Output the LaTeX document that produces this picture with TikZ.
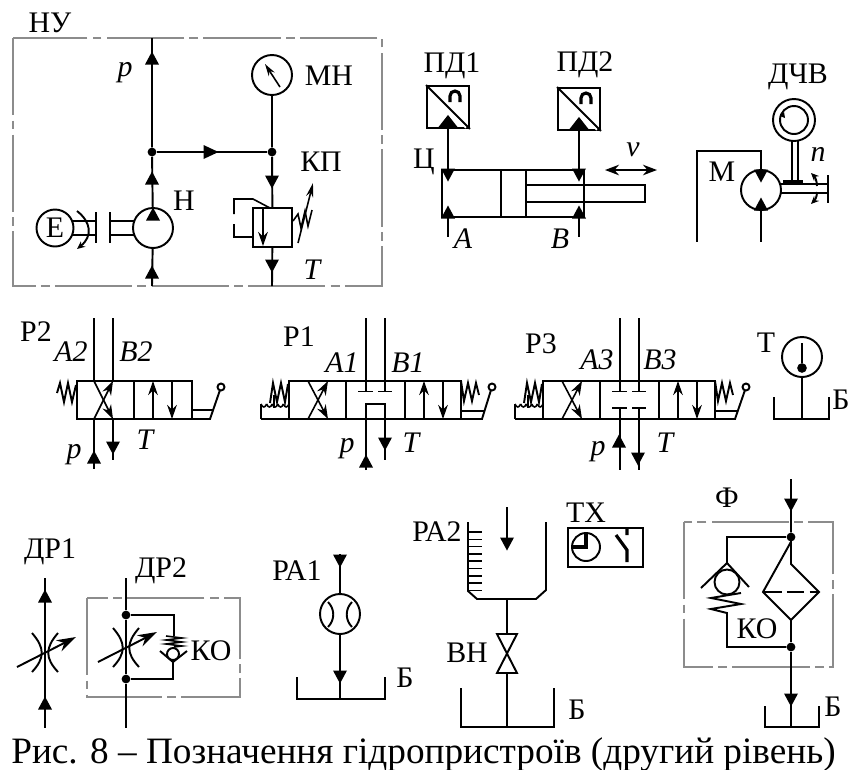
\documentclass[tikz,border=0pt]{standalone}
\usepackage{fontspec}
\setmainfont{Liberation Serif}
\usetikzlibrary{arrows.meta}

\begin{document}
\begin{tikzpicture}
	[
		x=0.02cm, y=-0.02cm,
		wire/.style = {line width=1.1pt, line join=miter},
		fine/.style = {line width=0.9pt},
		heavy/.style = {line width=1.8pt},
		frame/.style = {draw=black!45, line width=0.6pt, dash pattern=on 44pt off 3pt on 5pt off 3pt},
		wedge/.style = {fill=black, draw=none},
		vane/.style = {fine, -{Stealth[length=8pt,width=5.5pt]}},
		ring/.style = {circle, draw, line width=1.1pt, inner sep=0pt, minimum size=#1},
		dot/.style = {circle, fill=black, inner sep=0pt, minimum size=5pt},
		tag/.style = {inner sep=0pt, font=\fontsize{17}{19}\selectfont},
		var/.style = {inner sep=0pt, font=\fontsize{17}{19}\selectfont\itshape},
	]
	\useasboundingbox (0,0) rectangle (850,769);

	% frames
	\draw[frame] (13,38) rectangle (382,286);
	\draw[frame] (87,598) rectangle (240,697);
	\draw[frame] (684,522) rectangle (833,667);

	% wedges on the lines
	\foreach \x/\y in {152/58,152/178,152/272,153/214,448/212,579/212,761/204,94/457,366/461,619/441,45/596,45/703}
	\fill[wedge] (\x,\y) ++(0,-6.5) -- ++(7,13) -- ++(-14,0) -- cycle;
	\foreach \x/\y in {272/182,272/266,448/175,579/175,761/176,113/448,385/444,638/459,340/561,340/677,507/544,791/505,791/700}
	\fill[wedge] (\x,\y) ++(0,6.5) -- ++(7,-13) -- ++(-14,0) -- cycle;
	\fill[wedge] (211,152) ++(7.5,0) -- ++(-15,-7) -- ++(0,14) -- cycle;

	% pump unit
	\node[ring=0.8cm] (pump) at (153,228) {};
	\node[ring=0.8cm] (gauge) at (272,75) {};
	\node[ring=0.74cm, tag] (motorE) at (55,228) {Е};
	\node[dot] (j1) at (152,152) {};
	\node[dot] (j2) at (272,152) {};
	\node[draw, line width=1.1pt, inner sep=0pt, minimum size=0.78cm] (relief) at (272.5,227.5) {};
	\coordinate (pTop) at (152,38);
	\coordinate (pBot) at (152,286);
	\coordinate (tBot) at (272,286);
	\draw[wire] (pTop) -- (j1) -- (pump);
	\draw[wire] (pump) -- (pBot);
	\draw[wire] (j1) -- (j2);
	\draw[wire] (gauge) -- (j2) -- (relief);
	\draw[wire] (relief) -- (tBot);
	\draw[wire] (73,221) -- (96,221) (73,235) -- (96,235);
	\draw[wire] (96,212) -- (96,243) (110,212) -- (110,243);
	\draw[wire] (110,221) -- (134,221) (110,235) -- (134,235);
	\draw[wire, -{Stealth[length=4.5pt,width=4pt]}] (77,211) .. controls (91,222) and (93,236) .. (77,249);
	\draw[fine, {Stealth[length=7pt,width=4pt]}-] (265,64) -- (280,87);
	\draw[fine] (270,208) -- (253,199) -- (234,199) -- (234,214);
	\draw[fine] (234,224) -- (234,237) -- (253,237);
	\draw[vane] (263,208) -- (263,246);
	\draw[fine] (293,221) -- (298,214) -- (301,228) -- (305,211) -- (308,226) -- (312,210);
	\draw[fine, -{Stealth[length=8pt,width=4pt]}] (298,243) -- (313,183);

	% cylinder
	\node[draw, line width=1.1pt, inner sep=0pt, minimum size=0.84cm] (pd1) at (448,107) {};
	\node[draw, line width=1.1pt, inner sep=0pt, minimum size=0.84cm] (pd2) at (579,109) {};
	\coordinate (c1) at (448,170);
	\coordinate (c2) at (579,170);
	\draw[wire] (pd1) -- (c1);
	\draw[wire] (pd2) -- (c2);
	\foreach \n in {pd1,pd2} {
		\draw[wire] (\n.north west) -- (\n.south east);
		\draw[heavy] (\n) ++(2,-5) -- ++(0,-6) arc (180:360:5) -- ++(0,6);
		\fill[wedge] (\n.south) ++(0,-14) -- ++(11,14) -- ++(-22,0) -- cycle;
		\draw[white, line width=0.8pt] (\n.south east) ++(-4,-1) -- ++(-12,-12);
	}
	\draw[wire] (442,170) rectangle (584,217);
	\draw[wire] (501,170) -- (501,217) (526,170) -- (526,217);
	\draw[wire] (526,185) rectangle (645,202);
	\draw[wire] (448,217) -- (448,237) (579,217) -- (579,237);
	\draw[wire, {Stealth[length=8pt,width=6pt]}-{Stealth[length=8pt,width=6pt]}] (605,170) -- (657,170);

	% motor
	\node[ring=0.8cm] (motorM) at (761,190) {};
	\node[ring=0.84cm] (speed) at (794,120) {};
	\node[ring=0.56cm] (speedIn) at (794,120) {};
	\coordinate (m1) at (761,151);
	\coordinate (m2) at (697,151);
	\coordinate (m3) at (697,242);
	\coordinate (m4) at (761,242);
	\draw[wire] (motorM) -- (m1) -- (m2) -- (m3);
	\draw[wire] (motorM) -- (m4);
	\fill[wedge] (780,116) -- ++(4,-4) -- ++(1,6) -- cycle;
	\draw[wire] (792,141) -- (792,182) (798,141) -- (798,182);
	\draw[heavy] (783,182) -- (803,182);
	\draw[wire] (780,184) -- (828,184) (780,193) -- (828,193);
	\draw[wire] (828,175) -- (828,203);
	\draw[wire, -{Stealth[length=4.5pt,width=4pt]}] (817,186) .. controls (817,181) and (815,177) .. (811,173);
	\draw[wire, -{Stealth[length=4.5pt,width=4pt]}] (817,192) .. controls (817,197) and (815,200) .. (811,204);

	% valve P2
	\draw[wire] (77,381) rectangle (192,419);
	\draw[wire] (134,381) -- (134,419);
	\draw[wire] (94,318) -- (94,381) (113,318) -- (113,381);
	\draw[wire] (94,419) -- (94,469) (113,419) -- (113,460);
	\draw[vane] (94,381) -- (113,419);
	\draw[vane] (94,419) -- (113,381);
	\draw[vane] (153,419) -- (153,381);
	\draw[vane] (172,381) -- (172,419);
	\draw[wire] (57,393) -- (60,383) -- (64,402) -- (68,383) -- (72,402) -- (76,385);
	\draw[wire] (192,410) -- (213,410);
	\draw[wire] (192,419) -- (210,419) -- (220,390);
	\draw[wire] (221,387) circle (3.5);

	% valves P1 and P3
	\foreach \dx/\tipx in {0/482,254/481} {
		\begin{scope}[shift={(\dx,0)}]
			\draw[wire] (289,381) rectangle (461,419);
			\draw[wire] (346,381) -- (346,419) (405,381) -- (405,419);
			\draw[wire] (366,318) -- (366,391) (385,318) -- (385,391);
			\draw[wire] (358,391.5) -- (373,391.5) (378,391.5) -- (392,391.5);
			\draw[vane] (308,381) -- (328,419);
			\draw[vane] (308,419) -- (328,381);
			\draw[vane] (424,419) -- (424,381);
			\draw[vane] (443,381) -- (443,419);
			\draw[wire] (261,419) -- (289,419) (261,419) -- (261,404);
			\foreach \x in {261,266.6,272.2,277.8,283.4}
			\draw[fine] (\x,404) .. controls +(1.5,4) and +(-1.5,4) .. +(5.6,0);
			\draw[wire] (270,403) -- (273,383) -- (277,402) -- (281,383) -- (285,402) -- (288,384);
			\draw[fine] (274,395) -- (274,408);
			\draw[wire] (461,381) -- ++(3,20) -- ++(4,-18) -- ++(4,18) -- ++(4,-18) -- ++(3,12);
			\draw[wire] (461,411) -- (484,411);
			\draw[wire] (461,419) -- (\tipx,419) -- (491,390);
			\draw[wire] (492,387) circle (3.5);
		\end{scope}
	}
	% P1 centre
	\draw[wire] (366,470) -- (366,404) -- (385,404) -- (385,460);
	% P3 centre
	\draw[wire] (612,408) -- (627,408) (632,408) -- (646,408);
	\draw[wire] (620,408) -- (620,470) (639,408) -- (639,470);

	% level gauge on the tank
	\node[ring=0.8cm] (level) at (802,357) {};
	\node[dot, minimum size=5.5pt] (bulb) at (802,368) {};
	\coordinate (lev) at (802,343);
	\coordinate (levB) at (802,419);
	\draw[fine] (lev) -- (bulb);
	\draw[wire] (level) -- (levB);
	\draw[wire] (774,397) -- (774,419) -- (829,419) -- (829,397);

	% throttles
	\coordinate (dr1t) at (45,578);
	\coordinate (dr1b) at (45,728);
	\coordinate (dr2t) at (126,578);
	\coordinate (dr2b) at (126,728);
	\draw[wire] (dr1t) -- (dr1b);
	\node[dot] (j3) at (126,615) {};
	\node[dot] (j4) at (126,679) {};
	\draw[wire] (dr2t) -- (j3) -- (j4) -- (dr2b);
	\foreach \dx/\dy in {0/0,81/-5} {
		\begin{scope}[shift={(\dx,\dy)}]
			\draw[wire] (32,633) .. controls (45,648) and (45,658) .. (32,672);
			\draw[wire] (58,633) .. controls (45,648) and (45,658) .. (58,672);
			\draw[wire, -{Stealth[length=11pt,width=7pt]}] (17,667) -- (76,637);
		\end{scope}
	}
	\node[circle, draw, line width=1.1pt, inner sep=0pt, minimum size=0.24cm] (ball1) at (173,654) {};
	\coordinate (b1) at (174,615);
	\coordinate (b2) at (174,636);
	\coordinate (b3) at (173,662);
	\coordinate (b4) at (173,679);
	\draw[wire] (j3) -- (b1) -- (b2);
	\draw[wire] (b3) -- (b4) -- (j4);
	\draw[wire] (160,651) -- (b3) -- (187,651);
	\draw[fine] (166,636) -- (182,638) -- (166,640) -- (182,642) -- (166,644) -- (182,646) -- (174,647);

	% flow meters
	\node[ring=0.8cm] (meter) at (340,614) {};
	\coordinate (rTop) at (340,554);
	\coordinate (rBot) at (340,699);
	\draw[wire] (rTop) -- (meter) -- (rBot);
	\draw[wire] (297,677) -- (297,699) -- (385,699) -- (385,677);
	\draw[wire] (328,602) .. controls (335,609) and (335,620) .. (328,627);
	\draw[wire] (352,602) .. controls (345,609) and (345,620) .. (352,627);

	% dosing vessel
	\draw[wire] (468,522) -- (468,591) -- (477,599) -- (536,599) -- (546,590) -- (546,522);
	\foreach \y in {532,539.3,...,592}
	\draw[fine] (468,\y) -- (482,\y);
	\coordinate (fill) at (507,507);
	\coordinate (fillB) at (507,540);
	\draw[wire] (fill) -- (fillB);
	\coordinate (s1) at (507,599);
	\coordinate (s2) at (507,634);
	\coordinate (s3) at (507,673);
	\coordinate (s4) at (507,727);
	\draw[wire] (s1) -- (s2) (s3) -- (s4);
	\draw[wire] (s2) -- (497,634) -- (517,673) -- (497,673) -- (517,634) -- cycle;
	\draw[wire] (461,688) -- (461,727) -- (554,727) -- (554,688);

	% timer
	\draw[wire] (568,528) rectangle (643,567);
	\node[ring=0.56cm] (clock) at (586,547) {};
	\draw[heavy] (586,533) -- (586,547) -- (572,547);
	\draw[heavy] (627,528) -- (627,535) (616,535) -- (627,550) -- (627,562);

	% filter
	\node[dot] (j5) at (791,537) {};
	\node[dot] (j6) at (791,647) {};
	\coordinate (fTop) at (791,479);
	\coordinate (fBot) at (791,727);
	\coordinate (f1) at (791,564);
	\coordinate (f2) at (791,620);
	\draw[wire] (fTop) -- (j5) -- (f1) -- (819,592) -- (f2) -- (763,592) -- cycle;
	\draw[wire] (f2) -- (j6) -- (fBot);
	\draw[wire, dash pattern=on 10pt off 3pt] (764,592) -- (818,592);
	\draw[wire] (765,706) -- (765,727) -- (819,727) -- (819,706);
	\coordinate (k1) at (727,537);
	\coordinate (k2) at (727,563);
	\coordinate (k3) at (727,613);
	\coordinate (k4) at (727,647);
	\draw[wire] (j5) -- (k1) -- (k2);
	\draw[wire] (701,588) -- (k2) -- (749,587);
	\node[ring=0.5cm] (ball2) at (727,582) {};
	\draw[wire] (741,593) -- (711,598) -- (741,604) -- (711,609) -- (k3) -- (k4) -- (j6);

	% labels
	\node[tag] (lblNU) at (50,23) {НУ};
	\node[var] (lblP) at (125,73) {p};
	\node[tag] (lblMN) at (329,76) {МН};
	\node[tag] (lblKP) at (321,162) {КП};
	\node[tag] (lblH) at (184,201) {Н};
	\node[var] (lblT) at (312,270) {T};
	\node[tag] (lblPD1) at (452,66) {ПД1};
	\node[tag] (lblPD2) at (585,65) {ПД2};
	\node[tag] (lblC) at (424,162) {Ц};
	\node[var] (lblA) at (463,239) {A};
	\node[var] (lblB) at (560,239) {B};
	\node[var] (lblV) at (633,150) {v};
	\node[tag] (lblDCV) at (798,77) {ДЧВ};
	\node[tag] (lblM) at (722,172) {М};
	\node[var] (lblN) at (818,154) {n};
	\node[tag] (lblR2) at (36,332) {Р2};
	\node[var] (lblA2) at (71,352) {A2};
	\node[var] (lblB2) at (136,352) {B2};
	\node[var] (lblP2) at (74,455) {p};
	\node[var] (lblT2) at (145,440) {T};
	\node[tag] (lblR1) at (299,337) {Р1};
	\node[var] (lblA1) at (342,363) {A1};
	\node[var] (lblB1) at (408,363) {B1};
	\node[var] (lblP1) at (347,449) {p};
	\node[var] (lblT1) at (411,443) {T};
	\node[tag] (lblR3) at (541,344) {Р3};
	\node[var] (lblA3) at (597,360) {A3};
	\node[var] (lblB3) at (660,360) {B3};
	\node[var] (lblP3) at (598,452) {p};
	\node[var] (lblT3) at (665,443) {T};
	\node[tag] (lblTT) at (766,343) {Т};
	\node[tag] (lblB4) at (841,400) {Б};
	\node[tag] (lblDR1) at (50,552) {ДР1};
	\node[tag] (lblDR2) at (161,571) {ДР2};
	\node[tag] (lblKO1) at (211,651) {КО};
	\node[tag] (lblRA1) at (297,571) {РА1};
	\node[tag] (lblB5) at (405,678) {Б};
	\node[tag] (lblRA2) at (437,532) {РА2};
	\node[tag] (lblVN) at (467,653) {ВН};
	\node[tag] (lblB6) at (577,710) {Б};
	\node[tag] (lblTX) at (586,513) {ТХ};
	\node[tag] (lblF) at (727,498) {Ф};
	\node[tag] (lblKO2) at (757,629) {КО};
	\node[tag] (lblB7) at (833,707) {Б};
	\node[inner sep=0pt, anchor=base, font=\fontsize{21.2}{24}\selectfont] (caption) at (423.5,763) {Рис. 8 – Позначення гідропристроїв (другий рівень)};

\end{tikzpicture}
\end{document}
